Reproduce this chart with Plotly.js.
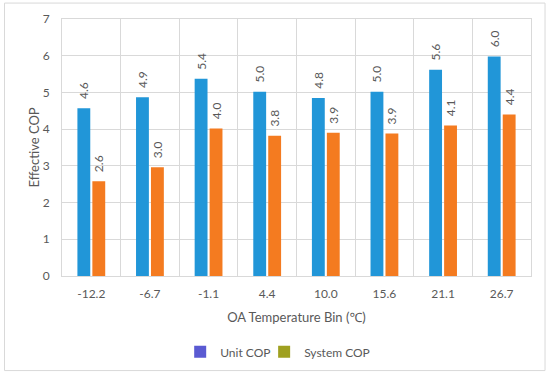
<!DOCTYPE html>
<html>
<head>
<meta charset="utf-8">
<script src="https://cdn.plot.ly/plotly-3.0.1.min.js"></script>
<style>html,body{margin:0;padding:0;background:#fff;}#chart{width:550px;height:377px;}</style>
</head>
<body>
<div id="chart"></div>
<script>
const categories = ["-12.2", "-6.7", "-1.1", "4.4", "10.0", "15.6", "21.1", "26.7"];
const unitCOP = [4.57, 4.87, 5.37, 5.02, 4.85, 5.02, 5.62, 5.98];
const systemCOP = [2.58, 2.96, 4.02, 3.82, 3.90, 3.88, 4.10, 4.40];
const yTicks = [0, 1, 2, 3, 4, 5, 6, 7];

const fontFam = "Lato, 'Noto Sans', sans-serif";
const grey = "#595959";

const labelTemplate = "\u00a0\u00a0%{y:.1f}";

const traces = [
  {
    type: "bar", name: "Unit COP", x: categories, y: unitCOP, offsetgroup: "u",
    marker: {color: "#2196d8"},
    texttemplate: labelTemplate, textposition: "outside", textangle: -90, constraintext: "none",
    textfont: {family: fontFam, size: 12, color: grey},
    cliponaxis: false, showlegend: false, hoverinfo: "skip"
  },
  {
    type: "bar", name: "System COP", x: categories, y: systemCOP, offsetgroup: "s",
    marker: {color: "#f47b20"},
    texttemplate: labelTemplate, textposition: "outside", textangle: -90, constraintext: "none",
    textfont: {family: fontFam, size: 12, color: grey},
    cliponaxis: false, showlegend: false, hoverinfo: "skip"
  },
  {type: "bar", name: "Unit COP", x: [categories[0]], y: [null], offsetgroup: "u", marker: {color: "#5a5ad2"}, showlegend: true, legend: "legend"},
  {type: "bar", name: "System COP", x: [categories[0]], y: [null], offsetgroup: "s", marker: {color: "#9fa020"}, showlegend: true, legend: "legend2"}
];

const legendCommon = {orientation: "h", y: -0.29, yanchor: "middle", itemwidth: 30,
                      bgcolor: "rgba(0,0,0,0)", font: {family: fontFam, size: 12, color: grey}};

const layout = {
  width: 550, height: 377,
  margin: {l: 62, r: 19, t: 19, b: 100},
  paper_bgcolor: "#ffffff", plot_bgcolor: "#ffffff",
  font: {family: fontFam, color: grey, size: 12},
  barmode: "group", bargap: 0.49, bargroupgap: 0.14,
  showlegend: true,
  legend: Object.assign({}, legendCommon, {x: 0.252, xanchor: "left"}),
  legend2: Object.assign({}, legendCommon, {x: 0.431, xanchor: "left"}),
  xaxis: {
    type: "category", tickson: "boundaries", showgrid: true, gridcolor: "#d9d9d9", gridwidth: 1,
    showline: true, mirror: true, linecolor: "#d9d9d9", ticks: "", ticklabelstandoff: 7,
    tickfont: {family: fontFam, size: 12, color: grey},
    title: {text: "OA Temperature Bin (℃)", font: {family: fontFam, size: 13, color: grey}, standoff: 12},
    automargin: false
  },
  yaxis: {
    range: [0, 7], tickvals: yTicks, showgrid: true, gridcolor: "#d9d9d9", gridwidth: 1,
    zeroline: false, showline: true, mirror: true, linecolor: "#d9d9d9", ticks: "", ticklabelstandoff: 9,
    tickfont: {family: fontFam, size: 12, color: grey},
    title: {text: "Effective COP", font: {family: fontFam, size: 13, color: grey}, standoff: 0},
    automargin: false
  },
  shapes: [{
    type: "rect", xref: "paper", yref: "paper",
    x0: -0.1226, x1: 1.0299, y0: -0.368, y1: 1.062,
    line: {color: "#d9d9d9", width: 1}, fillcolor: "rgba(0,0,0,0)", layer: "below"
  }]
};

Plotly.newPlot("chart", traces, layout, {displayModeBar: false, staticPlot: true});
</script>
</body>
</html>
